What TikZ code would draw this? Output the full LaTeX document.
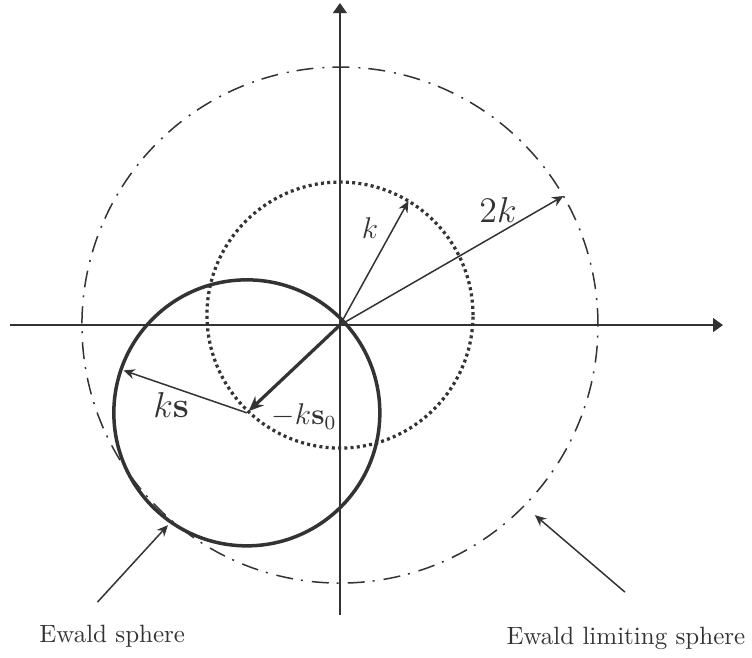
\documentclass[tikz,border=0pt]{standalone}
\usetikzlibrary{arrows.meta,calc}
\definecolor{ink}{gray}{0.2}

\begin{document}
\begin{tikzpicture}[scale=1.87,>={Stealth[length=4.5pt,width=4pt]},
  every node/.style={text=ink},
  axis/.style={draw=ink,line width=0.8pt,-{Triangle[length=4pt,width=5.5pt]}},
  thin arrow/.style={draw=ink,line width=0.6pt,->},
  limit/.style={draw=ink,line width=0.6pt,dash pattern=on 6.8pt off 3.2pt on 0.8pt off 3.6pt},
  dots/.style={draw=ink,line width=1.3pt,dash pattern=on 1.2pt off 1.3pt},
  ewald/.style={draw=ink,line width=1.4pt}]
  \useasboundingbox (-2.556,-2.496) rectangle (3.098,2.444);
  % axes
  \coordinate (O) at (0,0);
  \coordinate (xl) at (-2.481,0);
  \coordinate (xr) at (2.880,0);
  \coordinate (yb) at (0,-2.18);
  \coordinate (yt) at (0,2.421);
  \draw[axis] (xl) -- (xr);
  \draw[axis] (yb) -- (yt);
  % spheres
  \coordinate (cD) at (0,0.075);
  \coordinate (C) at (-0.70,-0.66);
  \draw[limit] (O) circle (1.94);
  \draw[dots] (cD) circle (1);
  \draw[ewald] (C) circle (1);
  % vectors
  \coordinate (kT) at ($(cD)+(59:1)$);
  \coordinate (kkT) at (30:1.94);
  \coordinate (ksT) at ($(C)+(161:0.98)$);
  \draw[thin arrow] (O) -- (kT);
  \draw[thin arrow] (O) -- (kkT);
  \draw[thin arrow] (C) -- (ksT);
  \draw[draw=ink,line width=1.3pt,-{Stealth[length=6pt,width=5pt]},shorten >=1pt] (O) -- (C);
  \node[font=\large] (k) at (0.226,0.729) {$k$};
  \node[font=\Large] (kk) at (1.188,0.865) {$2k$};
  \node[font=\Large] (ks) at (-1.27,-0.60) {$k\mathbf{s}$};
  \node[font=\large] (ks0) at (-0.27,-0.69) {$-k\mathbf{s}_0$};
  % labels
  \node (es) at (-1.712,-2.338) {Ewald sphere};
  \coordinate (esA) at (-1.823,-2.083);
  \coordinate (esB) at (-1.293,-1.504);
  \draw[thin arrow] (esA) -- (esB);
  \node (ls) at (2.15,-2.353) {Ewald limiting sphere};
  \coordinate (lsA) at (2.143,-2.008);
  \coordinate (lsB) at (1.466,-1.429);
  \draw[thin arrow] (lsA) -- (lsB);
\end{tikzpicture}
\end{document}
